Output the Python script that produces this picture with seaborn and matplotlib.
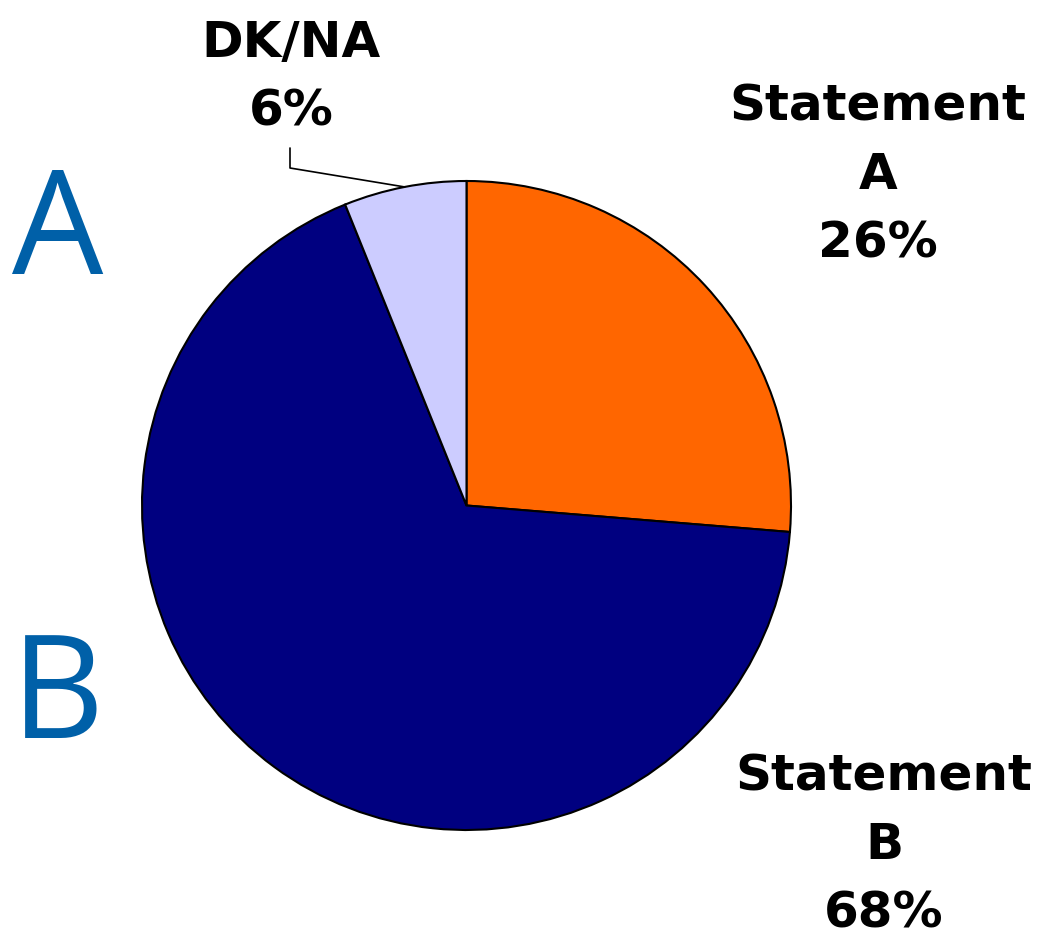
import numpy as np
import matplotlib
matplotlib.use("Agg")
import matplotlib.pyplot as plt
import seaborn as sns

labels = ["Statement\nA", "Statement\nB", "DK/NA"]
values = [26.3, 67.6, 6.1]
colors = ["#FF6600", "#000080", "#CCCCFF"]
side_letters = ["A", "B"]

sns.set_theme(style="white")
plt.rcParams["font.family"] = ["DejaVu Sans"]

W, H = 1053, 940
fig = plt.figure(figsize=(W / 100, H / 100), dpi=100)
ax = fig.add_axes([0, 0, 1, 1])

cx, cy, r = 466.5, 434.5, 324.5
wedges, _ = ax.pie(values, colors=colors, startangle=90, counterclock=False,
                   center=(cx, cy), radius=r, frame=True,
                   wedgeprops=dict(edgecolor="black", linewidth=1.5))
ax.set_xlim(0, W)
ax.set_ylim(0, H)
ax.axis("off")

# last-line baseline positions of each label block
label_pos = [(878, 683), (884, 13), (291, 815)]
for lab, v, (lx, ly) in zip(labels, values, label_pos):
    ax.text(lx, ly, f"{lab}\n{round(v)}%", ha="center", va="baseline", ma="center",
            fontsize=36, fontweight="bold", color="black", linespacing=1.53)

# leader line for DK/NA
w = wedges[2]
mid = np.deg2rad((w.theta1 + w.theta2) / 2)
px, py = cx + r * np.cos(mid), cy + r * np.sin(mid)
ax.plot([290, 290, px], [792, 772, py], color="black", lw=1.2)

ax.text(58, 703, side_letters[0], ha="center", va="center", fontsize=104,
        family="Open Sans", color="#0060A8")
ax.text(58, 240, side_letters[1], ha="center", va="center", fontsize=104,
        family="Open Sans", color="#0060A8")

fig.savefig("out.png", dpi=100, facecolor="white")
